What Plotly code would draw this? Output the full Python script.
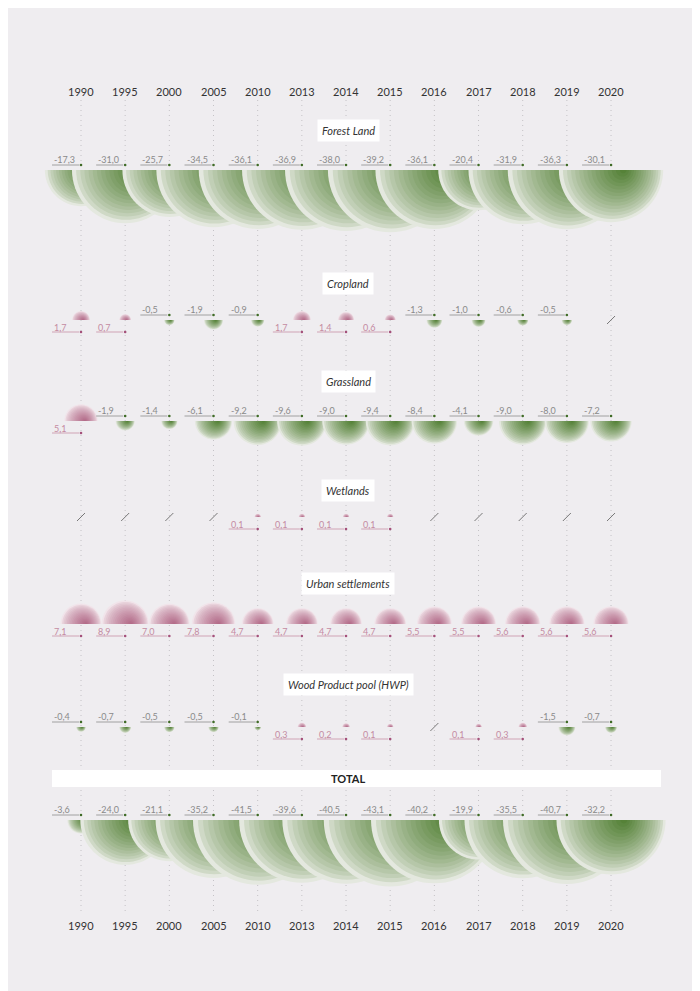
import math
import plotly.graph_objects as go

years = [1990, 1995, 2000, 2005, 2010, 2013, 2014, 2015, 2016, 2017, 2018, 2019, 2020]
forest = [-17.3, -31.0, -25.7, -34.5, -36.1, -36.9, -38.0, -39.2, -36.1, -20.4, -31.9, -36.3, -30.1]
cropland = [1.7, 0.7, -0.5, -1.9, -0.9, 1.7, 1.4, 0.6, -1.3, -1.0, -0.6, -0.5, None]
grassland = [5.1, -1.9, -1.4, -6.1, -9.2, -9.6, -9.0, -9.4, -8.4, -4.1, -9.0, -8.0, -7.2]
wetlands = [None, None, None, None, 0.1, 0.1, 0.1, 0.1, None, None, None, None, None]
urban = [7.1, 8.9, 7.0, 7.8, 4.7, 4.7, 4.7, 4.7, 5.5, 5.5, 5.6, 5.6, 5.6]
hwp = [-0.4, -0.7, -0.5, -0.5, -0.1, 0.3, 0.2, 0.1, None, 0.1, 0.3, -1.5, -0.7]
total = [-3.6, -24.0, -21.1, -35.2, -41.5, -39.6, -40.5, -43.1, -40.2, -19.9, -35.5, -40.7, -32.2]

rows = [
    ("Forest Land", forest, 170, 130),
    ("Cropland", cropland, 320, 283),
    ("Grassland", grassland, 421, 381),
    ("Wetlands", wetlands, 517, 490),
    ("Urban settlements", urban, 624, 583),
    ("Wood Product pool (HWP)", hwp, 727, 684),
    ("TOTAL", total, 820, 778),
]

BG = "#efedf0"
X0, DX = 81, 44.17
xs = [X0 + i * DX for i in range(len(years))]
OFF = 8  # page body margin compensation

def lerp(c1, c2, t):
    a = [int(c1[i:i + 2], 16) for i in (1, 3, 5)]
    b = [int(c2[i:i + 2], 16) for i in (1, 3, 5)]
    return "#%02x%02x%02x" % tuple(round(a[k] + (b[k] - a[k]) * t) for k in range(3))

GREEN = ("#e4e8df", "#4f7d30")
PINK = ("#f1e4ea", "#b06684")

shapes, ann = [], []

def semi(cx, cy, r, down, color):
    s = 1 if down else -1
    n = 36
    pts = []
    for k in range(n + 1):
        a = math.pi * k / n
        pts.append((cx - r * math.cos(a), cy + s * r * math.sin(a)))
    d = "M " + " L ".join(f"{px:.2f},{py:.2f}" for px, py in pts) + " Z"
    shapes.append(dict(type="path", path=d, xref="x", yref="y",
                       fillcolor=color, line=dict(width=0), layer="above"))

for x in xs:
    shapes.append(dict(type="line", x0=x, x1=x, y0=100, y1=912, xref="x", yref="y",
                       line=dict(color="#c4c2c6", width=1, dash="1px,4px"), layer="below"))

for y in (91, 925):
    for x, yr in zip(xs, years):
        ann.append(dict(x=x, y=y, text=str(yr), showarrow=False, xref="x", yref="y",
                        font=dict(family="Lato", size=11, color="#333")))

N = 16
for title, vals, b, ty in rows:
    if title == "TOTAL":
        shapes.append(dict(type="rect", x0=52, x1=661, y0=770, y1=787, xref="x", yref="y",
                           fillcolor="white", line=dict(width=0)))
        ann.append(dict(x=348, y=ty, text="<b>TOTAL</b>", showarrow=False, xref="x", yref="y",
                        font=dict(family="Lato", size=11, color="#222")))
    else:
        ann.append(dict(x=348, y=ty, text="<i>" + title + "</i>", showarrow=False, xref="x", yref="y",
                        bgcolor="white", borderpad=4,
                        font=dict(family="Lato", size=11, color="#333")))
    for x, v in zip(xs, vals):
        if v is None:
            shapes.append(dict(type="line", x0=x - 4, x1=x + 4, y0=b + 4, y1=b - 4, xref="x", yref="y",
                               line=dict(color="#777", width=1)))
            continue
        down = v < 0
        cols = GREEN if down else PINK
        r = 4.6 * abs(v) ** 0.7 + 2.3
        for k in range(N):
            t = k / N
            semi(x + 0.25 * r * t, b, r * (1 - t), down, lerp(cols[0], cols[1], t ** 0.7))
        txt = f"{v:.1f}".replace(".", ",")
        if down:
            ty_, ly = b - 11, b - 5
            tc, lc, dc = "#8a8a8a", "#a0a0a0", "#3f6b26"
        else:
            ty_, ly = b + 7, b + 12
            tc, lc, dc = "#c48ba2", "#d0a3b5", "#a4507a"
        ann.append(dict(x=x - 29, y=ty_, text=txt, showarrow=False, xanchor="left", xref="x", yref="y",
                        font=dict(family="Lato", size=9, color=tc)))
        shapes.append(dict(type="line", x0=x - 29, x1=x - 2, y0=ly, y1=ly, xref="x", yref="y",
                           line=dict(color=lc, width=1)))
        shapes.append(dict(type="circle", x0=x - 1.3, x1=x + 1.3, y0=ly - 1.3, y1=ly + 1.3,
                           xref="x", yref="y", fillcolor=dc, line=dict(width=0)))

fig = go.Figure()
fig.update_layout(width=700, height=991, margin=dict(l=0, r=0, t=0, b=0),
                  paper_bgcolor=BG, plot_bgcolor=BG, shapes=shapes, annotations=ann,
                  xaxis=dict(range=[OFF, 700 + OFF], visible=False, fixedrange=True),
                  yaxis=dict(range=[991 + OFF, OFF], visible=False, fixedrange=True),
                  showlegend=False)
fig.write_html("out.html", config={"displayModeBar": False})
